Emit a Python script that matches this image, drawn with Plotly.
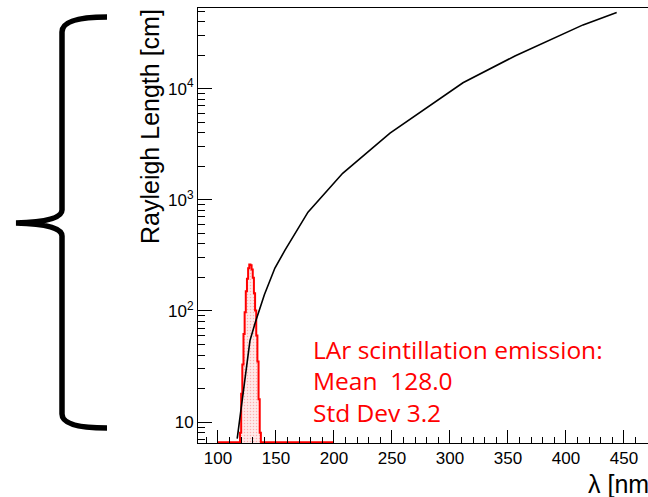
import numpy as np
import plotly.graph_objects as go

# ---- data ----
wavelength_nm = [116.6, 127.6, 131.9, 140.0, 149.1, 157.8, 177.6, 207.5, 248.3, 311.2, 356.0, 414.7, 443.7]
rayleigh_cm = [7.1, 54, 77, 140, 243, 352, 774, 1730, 3980, 11300, 19700, 37500, 48400]

hist_lo, hist_hi, hist_bw = 100, 200, 1.0
emis_centers = [118.5, 119.5, 120.5, 121.5, 122.5, 123.5, 124.5, 125.5, 126.5, 127.5,
                128.5, 129.5, 130.5, 131.5, 132.5, 133.5, 134.5, 135.5, 136.5, 137.5]
emis_counts = [3, 8, 18, 33, 62, 97, 150, 195, 242, 262,
               258, 236, 199, 144, 101, 60, 35, 16, 8, 3]

y_major_vals = [10, 100, 1000, 10000]
y_major_text = ["10", "10<sup>2</sup>", "10<sup>3</sup>", "10<sup>4</sup>"]
x_major_vals = [100, 150, 200, 250, 300, 350, 400, 450]

text_lines = ["LAr scintillation emission:", "Mean  128.0", "Std Dev 3.2"]

# ---- layout geometry ----
W, H = 648, 497
L, R, T, B = 198, 0, 8, 54
x_range = [82.8, 470.7]
y_range = [0.811, 4.726]

def px(xp):
    return (xp - L) / (W - L - R)

def py(yp):
    return (H - B - yp) / (H - T - B)

# full histogram (bins 100..200)
edges = np.arange(hist_lo, hist_hi + hist_bw / 2, hist_bw)
counts = np.zeros(len(edges) - 1)
for c, v in zip(emis_centers, emis_counts):
    counts[int((c - hist_lo) // hist_bw)] = v
floor = 10 ** (y_range[0] + 0.006)
step_y = np.where(counts > 0, counts, floor)
step_y = np.append(step_y, step_y[-1])

fig = go.Figure()

fig.add_trace(go.Bar(
    x=emis_centers, y=emis_counts, width=hist_bw,
    marker=dict(color="#ffe4e4", line=dict(width=0),
                pattern=dict(shape=".", fgcolor="#ff7070", bgcolor="#ffeaea", size=3, solidity=0.2)),
    showlegend=False,
))
fig.add_trace(go.Scatter(
    x=edges, y=step_y, mode="lines", line=dict(color="#ff0000", width=2, shape="hv"),
    showlegend=False,
))
fig.add_trace(go.Scatter(
    x=wavelength_nm, y=rayleigh_cm, mode="lines", line=dict(color="black", width=1.6),
    showlegend=False,
))

minor_y = [m * 10 ** e for e in range(0, 5) for m in range(2, 10)]

fig.update_layout(
    width=W, height=H,
    margin=dict(l=L, r=R, t=T, b=B),
    paper_bgcolor="white", plot_bgcolor="white",
    bargap=0,
    xaxis=dict(
        range=x_range, showline=True, linecolor="black", linewidth=1, mirror=True,
        showgrid=False, zeroline=False,
        tickmode="array", tickvals=x_major_vals,
        ticks="inside", ticklen=13, tickcolor="black", tickwidth=1,
        minor=dict(dtick=10, tick0=100, ticks="inside", ticklen=6, tickcolor="black", showgrid=False),
        tickfont=dict(family="Liberation Sans, Arial", size=17, color="black"),
    ),
    yaxis=dict(
        type="log", range=y_range, showline=True, linecolor="black", linewidth=1,
        showgrid=False, zeroline=False,
        tickmode="array", tickvals=y_major_vals, ticktext=y_major_text,
        ticks="inside", ticklen=14, tickcolor="black", tickwidth=1,
        minor=dict(tickmode="array", tickvals=minor_y, ticks="inside", ticklen=7,
                   tickcolor="black", showgrid=False),
        tickfont=dict(family="Liberation Sans, Arial", size=17, color="black"),
    ),
)

# axis titles (ROOT style placement)
fig.add_annotation(text="Rayleigh Length [cm]", xref="paper", yref="paper",
                   x=px(150), y=py(127), xanchor="center", yanchor="middle",
                   textangle=-90, showarrow=False,
                   font=dict(family="Liberation Sans, Arial", size=25, color="black"))
fig.add_annotation(text="λ [nm", xref="paper", yref="paper",
                   x=px(586), y=py(484), xanchor="left", yanchor="middle",
                   showarrow=False,
                   font=dict(family="Liberation Sans, Arial", size=25, color="black"))

# red statistics text
for i, line in enumerate(text_lines):
    fig.add_annotation(text=line, xref="paper", yref="paper",
                       x=px(311), y=py(349 + 31.5 * i), xanchor="left", yanchor="middle",
                       showarrow=False,
                       font=dict(family="Open Sans", size=24.5, color="#ff0000"))

# curly brace decoration on the left
pts = [(107, 17), (62, 17), (62, 32), (62, 210), (62, 222), (16, 223), (62, 224), (62, 236),
       (62, 414), (62, 428), (107, 428)]
P = [(px(a), py(b)) for a, b in pts]
path = (f"M {P[0][0]},{P[0][1]} Q {P[1][0]},{P[1][1]} {P[2][0]},{P[2][1]} "
        f"L {P[3][0]},{P[3][1]} Q {P[4][0]},{P[4][1]} {P[5][0]},{P[5][1]} "
        f"Q {P[6][0]},{P[6][1]} {P[7][0]},{P[7][1]} L {P[8][0]},{P[8][1]} "
        f"Q {P[9][0]},{P[9][1]} {P[10][0]},{P[10][1]}")
fig.add_shape(type="path", path=path, xref="paper", yref="paper",
              line=dict(color="black", width=5.5))

fig.write_html("out.html")
